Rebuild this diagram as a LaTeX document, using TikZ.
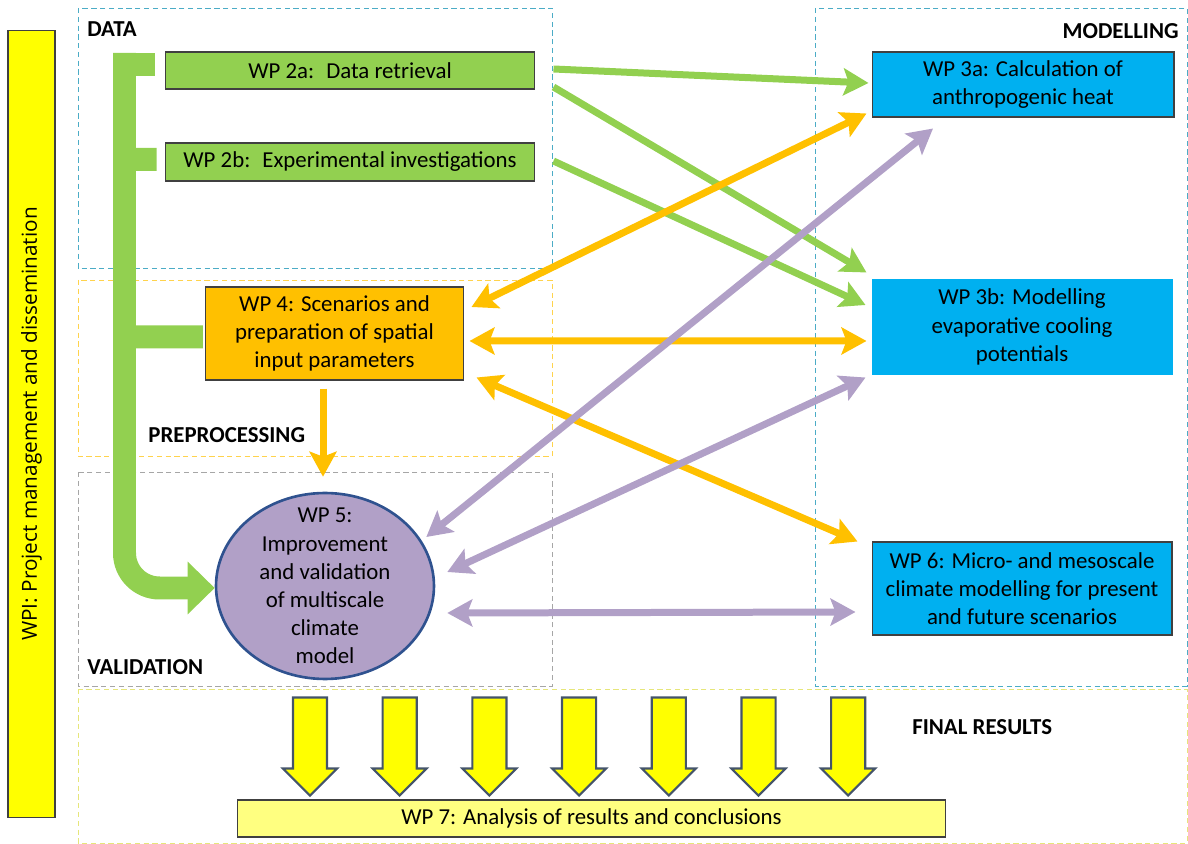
\documentclass[tikz,border=0pt]{standalone}
\usepackage{fontspec}
\setmainfont{Carlito}
\newfontfamily\barfont{Open Sans}
\usepackage{tikz}
\usetikzlibrary{shapes,arrows.meta,positioning,calc}

\definecolor{wpgreen}{HTML}{92D050}
\definecolor{wporange}{HTML}{FFC000}
\definecolor{wpblue}{HTML}{00B0F0}
\definecolor{wppurple}{HTML}{B1A0C7}
\definecolor{wpyellow}{HTML}{FFFF00}
\definecolor{wplight}{HTML}{FFFF80}
\definecolor{boxedge}{HTML}{404040}
\definecolor{circedge}{HTML}{2F528F}
\definecolor{arredge}{HTML}{44546A}
\definecolor{regteal}{HTML}{4BACC6}
\definecolor{regyellow}{HTML}{E6E67A}

\begin{document}
\begin{tikzpicture}[
    x=0.02cm, y=-0.02cm,
    font=\fontsize{13}{16}\selectfont,
    wpbox/.style={rectangle, draw=boxedge, line width=0.6pt, align=center, inner sep=0pt},
    region/.style={densely dashed, line width=0.5pt},
    tag/.style={font=\fontsize{13}{15}\selectfont\bfseries, inner sep=0pt},
    wptip/.tip={Stealth[length=0.5cm, width=0.54cm, inset=0.1cm]},
    link/.style={line width=0.14cm},
    oneway/.style={link, -wptip},
    twoway/.style={link, wptip-wptip},
    bracket/.style={line width=0.46cm, draw=wpgreen},
    bigarrow/.style={single arrow, shape border rotate=270, fill=wpyellow, draw=arredge,
        line width=1.2pt, minimum height=1.96cm, inner sep=0.32cm,
        single arrow head extend=0.2cm}
]
\useasboundingbox (0,0) rectangle (1188,844);

% Regions
\draw[region, draw=regteal] (78,8) rectangle (552,268);
\draw[region, draw=wporange!70] (78,280) rectangle (552,456);
\draw[region, draw=gray!70] (78,472) rectangle (552,686);
\draw[region, draw=regteal] (815,8) rectangle (1187,686);
\draw[region, draw=regyellow] (78,689) rectangle (1187,843);

\node[tag, anchor=west] (data) at (87,29) {DATA};
\node[tag, anchor=east] (modelling) at (1179,31.5) {MODELLING};
\node[tag, anchor=west] (prep) at (148,435) {PREPROCESSING};
\node[tag, anchor=west] (valid) at (87,667) {VALIDATION};
\node[tag, anchor=west] (final) at (912,727) {FINAL RESULTS};

% Work packages
\node[rectangle, rotate=90, fill=wpyellow, draw=boxedge, line width=0.6pt,
      minimum width=15.76cm, minimum height=0.94cm, inner sep=0pt,
      font=\barfont\fontsize{11.8}{13}\selectfont] (wp1) at (31.5,424)
      {WPI: Project management and dissemination};
\node[wpbox, fill=wpgreen, minimum width=7.4cm, minimum height=0.74cm] (wp2a) at (350,70.5) {WP 2a:~ Data retrieval};
\node[wpbox, fill=wpgreen, minimum width=7.4cm, minimum height=0.76cm] (wp2b) at (350,162) {WP 2b:~ Experimental investigations};
\node[wpbox, fill=wporange, minimum width=5.16cm, minimum height=1.86cm] (wp4) at (334.5,333.5)
    {WP 4: Scenarios and\\preparation of spatial\\input parameters};
\node[ellipse, fill=wppurple, draw=circedge, line width=1.5pt, minimum width=4.36cm,
      minimum height=3.72cm, inner sep=0pt] (wp5) at (325,586) {};
\node[align=center, inner sep=0pt] (wp5txt) at (wp5.center)
    {WP 5:\\Improvement\\and validation\\of multiscale\\climate\\model};
\node[wpbox, fill=wpblue, minimum width=6.04cm, minimum height=1.3cm] (wp3a) at (1023,84.5)
    {WP 3a: Calculation of\\anthropogenic heat};
\node[wpbox, fill=wpblue, draw=wpblue, minimum width=6cm, minimum height=1.88cm] (wp3b) at (1022,327)
    {WP 3b: Modelling\\evaporative cooling\\potentials};
\node[wpbox, fill=wpblue, minimum width=6cm, minimum height=1.86cm] (wp6) at (1022,588.5)
    {WP 6: Micro- and mesoscale\\climate modelling for present\\and future scenarios};
\node[wpbox, fill=wplight, minimum width=14.18cm, minimum height=0.74cm] (wp7) at (591.5,818.5)
    {WP 7: Analysis of results and conclusions};

% Results arrows
\foreach \i in {0,...,6}
    \node[bigarrow] (res\i) at (310+89.7*\i,738) {};

% Data bracket
\coordinate (spine) at (124.5,64.5);
\coordinate (spine2) at (124.5,159.5);
\coordinate (spine4) at (124.5,337);
\draw[bracket, rounded corners=0.7cm, -{Triangle[length=0.54cm, width=1.02cm]}]
    ([shift={(0,-11.5)}]spine) |- ([shift={(0,2)}]wp5.west);
\draw[bracket] (spine) -- ([shift={(-10,-6)}]wp2a.west);
\draw[bracket] (spine2) -- ([shift={(-8,-2.5)}]wp2b.west);
\draw[bracket] (spine4) -- ([shift={(-2,3.5)}]wp4.west);

% Links
\draw[oneway, wpgreen] ([shift={(18,-1.5)}]wp2a.east) -- ([shift={(-3,-1.5)}]wp3a.west);
\draw[oneway, wpgreen] ([shift={(18,16.5)}]wp2a.east) -- ([shift={(-5,-7)}]wp3b.north west);
\draw[oneway, wpgreen] ([shift={(18,-1)}]wp2b.east) -- ([shift={(-6,-22)}]wp3b.west);
\draw[twoway, wporange] ([shift={(7.5,-26.5)}]wp4.east) -- ([shift={(-5,-4)}]wp3a.south west);
\draw[twoway, wporange] ([shift={(5.5,7.5)}]wp4.east) -- ([shift={(-5,14)}]wp3b.west);
\draw[twoway, wporange] ([shift={(12.5,-3)}]wp4.south east) -- ([shift={(-14,0)}]wp6.north west);
\draw[oneway, wporange] ([shift={(-11.5,8)}]wp4.south) -- ([shift={(-2,-15)}]wp5.north);
\draw[twoway, wppurple] ([shift={(-9,-49)}]wp5.east) -- ([shift={(-90,11)}]wp3a.south);
\draw[twoway, wppurple] ([shift={(12,-14)}]wp5.east) -- ([shift={(-6,3)}]wp3b.south west);
\draw[twoway, wppurple] ([shift={(12,27)}]wp5.east) -- ([shift={(-16,23.5)}]wp6.west);

\end{tikzpicture}
\end{document}
